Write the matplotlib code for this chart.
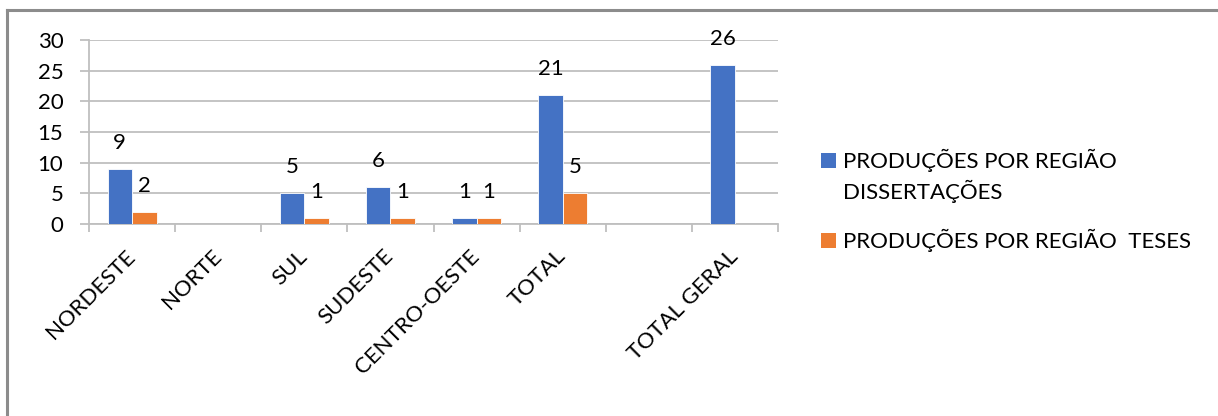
import numpy as np
import matplotlib
matplotlib.use("Agg")
import matplotlib.pyplot as plt
from matplotlib.patches import Rectangle
from matplotlib.lines import Line2D

# Data
categorias = ["NORDESTE", "NORTE", "SUL", "SUDESTE", "CENTRO-OESTE", "TOTAL", "", "TOTAL GERAL"]
dissertacoes = [9, np.nan, 5, 6, 1, 21, np.nan, 26]
teses = [2, np.nan, 1, 1, 1, 5, np.nan, np.nan]
serie_nomes = ["PRODUÇÕES POR REGIÃO\nDISSERTAÇÕES", "PRODUÇÕES POR REGIÃO  TESES"]
y_ticks = [0, 5, 10, 15, 20, 25, 30]

AZUL = "#4472C4"
LARANJA = "#ED7D31"
GRADE = "#BFBFBF"
FS = 16

plt.rcParams["font.family"] = ["Lato", "DejaVu Sans"]

W, H = 1218, 416
fig = plt.figure(figsize=(W / 100, H / 100), dpi=100)
ax = fig.add_axes([89 / W, 1 - 224 / H, (778 - 89) / W, (224 - 40) / H])

x = np.arange(len(categorias))
bw = 0.285
ax.bar(x - bw / 2, dissertacoes, bw, color=AZUL, edgecolor="white", linewidth=0.6, zorder=3)
ax.bar(x + bw / 2, teses, bw, color=LARANJA, edgecolor="white", linewidth=0.6, zorder=3)

off = 26 * 72 / 100
for xs, vals in ((x - bw / 2, dissertacoes), (x + bw / 2, teses)):
    for xi, v in zip(xs, vals):
        if np.isnan(v):
            continue
        ax.annotate(f"{v:g}", (xi, v), xytext=(0, off), textcoords="offset points",
                    ha="center", va="center", fontsize=FS, color="#000000", zorder=4)

ax.set_xlim(-0.5, len(categorias) - 0.5)
ax.set_ylim(0, 30)
ax.set_yticks(y_ticks)
ax.set_yticklabels([str(t) for t in y_ticks], fontsize=FS)
ax.yaxis.grid(True, color=GRADE, linewidth=1.3, zorder=0)
ax.tick_params(axis="y", length=9 * 0.72, width=1.3, color=GRADE, pad=12)

# category boundaries as major ticks, labels on minor ticks at the centres
ax.set_xticks(np.arange(len(categorias) + 1) - 0.5)
ax.set_xticklabels([])
ax.tick_params(axis="x", which="major", length=8 * 0.72, width=1.3, color=GRADE)
ax.set_xticks(x, minor=True)
ax.set_xticklabels(categorias, minor=True, rotation=45, ha="right", va="center",
                   rotation_mode="anchor", fontsize=FS)
ax.tick_params(axis="x", which="minor", length=0, pad=21)

for s in ("top", "right"):
    ax.spines[s].set_visible(False)
for s in ("left", "bottom"):
    ax.spines[s].set_color(GRADE)
    ax.spines[s].set_linewidth(1.3)

# legend
def px(xp, yp):
    return xp / W, 1 - yp / H

for (yc, ytxt), cor, nome in zip(((160, 176), (240, 240)), (AZUL, LARANJA), serie_nomes):
    fig.patches.append(Rectangle(px(821, yc + 7.5), 15 / W, 15 / H, transform=fig.transFigure,
                                 facecolor=cor, edgecolor="none"))
    fig.text(*px(843, ytxt), nome, ha="left", va="center", fontsize=FS, linespacing=1.4)

# chart frame
fig.add_artist(Line2D([7 / W, 1.0], [1 - 10 / H] * 2, transform=fig.transFigure,
                      color="#8C8C8C", linewidth=2.2))
fig.add_artist(Line2D([7 / W] * 2, [0, 1 - 10 / H], transform=fig.transFigure,
                      color="#8C8C8C", linewidth=2.2))

fig.savefig("out.png", dpi=100)
